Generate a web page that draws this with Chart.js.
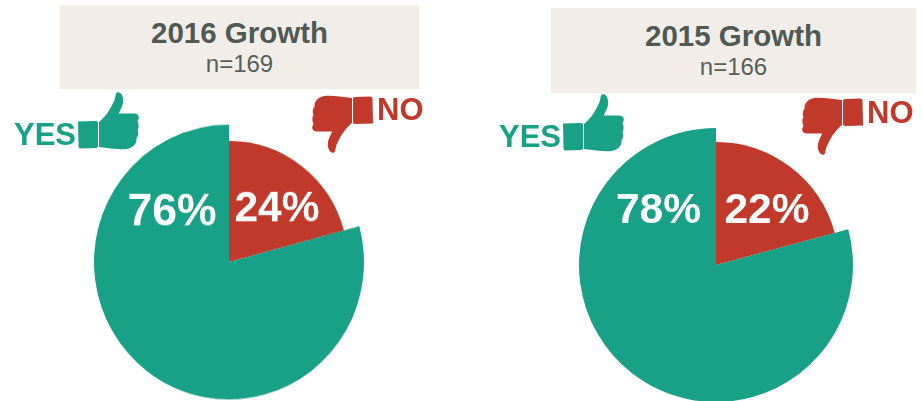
<!DOCTYPE html>
<html><head><meta charset="utf-8">
<script src="https://cdn.jsdelivr.net/npm/chart.js@4"></script>
<style>
html,body{margin:0;padding:0;background:#fff;width:922px;height:401px;overflow:hidden;font-family:"Liberation Sans",Arial,sans-serif}
canvas{position:absolute;left:0;top:0}
#c{transform-origin:0 262px;transform:scaleY(1.018)}
.box{position:absolute;background:#f2eee7;text-align:center;color:#4f5a55}
.box b{position:absolute;left:0;right:0;font-size:29.5px;line-height:32px}
.box span{position:absolute;left:0;right:0;font-size:24px;line-height:26px;color:#56605b}
.lab{position:absolute;font-weight:bold;font-size:31px;line-height:34px}
svg{position:absolute;overflow:visible}
</style></head><body>
<canvas id="c" width="922" height="401"></canvas>
<canvas id="d" width="922" height="401"></canvas>
<div class="box" style="left:60px;top:5px;width:359px;height:84px"><b id="t0" style="top:12px"></b><span id="n0" style="top:46px"></span></div>
<div class="box" style="left:551px;top:8px;width:365px;height:85px"><b id="t1" style="top:12px"></b><span id="n1" style="top:46px"></span></div>
<div class="lab" style="left:14px;top:118px;color:#18a186">YES</div>
<div class="lab" style="left:377px;top:93px;color:#c0392b">NO</div>
<div class="lab" style="left:499px;top:119.5px;color:#18a186">YES</div>
<div class="lab" style="left:867px;top:96px;color:#c0392b">NO</div>
<svg width="0" height="0" style="left:0;top:0">
<defs>
<g id="up">
<path d="M0 0.5 L18 0 Q20 0 20 2 L20 25 Q20 27 18 27 L3 27.5 Q0.5 27.5 0.5 25Z"/>
<path d="M21 1 C26 -3 31 -9 35 -18 C38 -22 37 -28 39 -28.5 C43 -30 46 -24 45 -18 C44 -13 41 -9 41 -7.5 L56 -7.5 C61 -7.5 62 -3 59.5 0 C61 3 61 7 59.5 9 C61 12 60 16 58.5 17 C59 21 57 24 54 26 C49 30 36 28 21 26Z"/>
</g>
</defs>
</svg>
<svg width="62" height="60" style="left:78px;top:120.5px" fill="#18a186"><use href="#up"/></svg>
<svg width="62" height="60" style="left:562.5px;top:122.5px" fill="#18a186"><use href="#up"/></svg>
<svg width="62" height="60" style="left:373px;top:124px" fill="#c0392b"><use href="#up" transform="rotate(180)"/></svg>
<svg width="62" height="60" style="left:863px;top:125.5px" fill="#c0392b"><use href="#up" transform="rotate(180)"/></svg>
<script>
const categories = ["NO", "YES"];
// Slice sizes as drawn in the picture (both red wedges span about 75 degrees)
const sliceValues2016 = [20.8, 79.2];
const sliceValues2015 = [20.8, 79.2];
// Percentages as printed on the slices
const printed2016 = ["24%", "76%"];
const printed2015 = ["22%", "78%"];
const titles = ["2016 Growth", "2015 Growth"];
const counts = ["n=169", "n=166"];
const sliceColors = ["#c0392b", "#18a186"];

titles.forEach((t,i)=>{document.getElementById("t"+i).textContent=t;document.getElementById("n"+i).textContent=counts[i];});

function pie(id, values, printed, cx, cy, r, rNo, labelPos){
  const shape = {
    id:"shape",
    beforeDatasetsDraw(chart){
      chart.getDatasetMeta(0).data[0].outerRadius = rNo;
    },
    afterDatasetsDraw(chart){
      const g=chart.ctx;
      g.save();g.fillStyle="#fff";
      g.textAlign="center";g.textBaseline="alphabetic";
      printed.forEach((s,k)=>{
        g.font="bold "+labelPos[k][2]+"px 'Liberation Sans',Arial,sans-serif";
        g.fillText(s,labelPos[k][0],labelPos[k][1]);
      });
      g.restore();
    }
  };
  new Chart(document.getElementById(id),{
    type:"pie",
    data:{labels:categories,datasets:[{data:values,backgroundColor:sliceColors,borderWidth:0}]},
    options:{responsive:false,animation:false,radius:r,
      layout:{padding:{left:Math.max(2*cx-922,0),right:Math.max(922-2*cx,0),top:Math.max(2*cy-401,0),bottom:Math.max(401-2*cy,0)}},
      plugins:{legend:{display:false},title:{display:false},tooltip:{enabled:false}}},
    plugins:[shape]
  });
}
pie("c",sliceValues2016,printed2016,229,262,135,119,[[277,222,42.5],[172,226,44.5]]);
pie("d",sliceValues2015,printed2015,716,265,137,123,[[767,223,42.5],[658.5,223,42.5]]);
</script>
</body></html>
